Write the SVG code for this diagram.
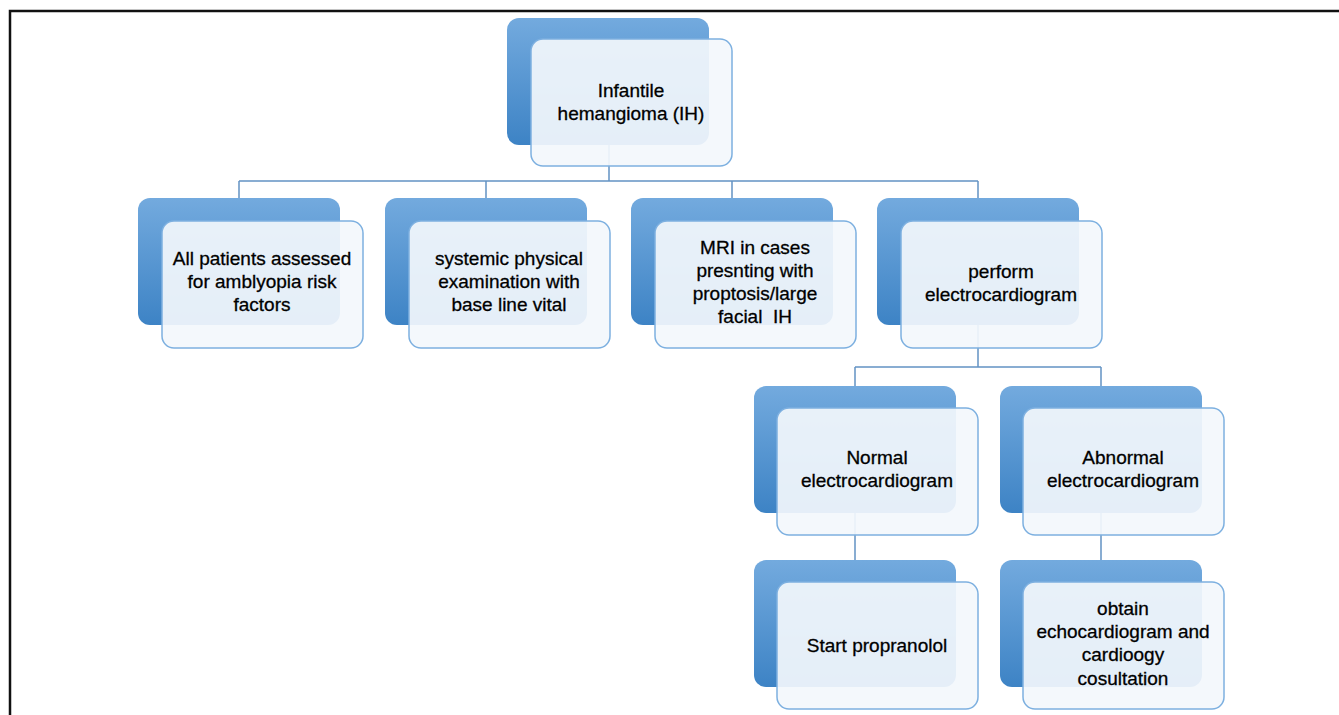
<svg xmlns="http://www.w3.org/2000/svg" width="1339" height="715" viewBox="0 0 1339 715">
<defs>
<linearGradient id="bg" x1="0" y1="0" x2="0" y2="1">
<stop offset="0" stop-color="#73AADE"/>
<stop offset="1" stop-color="#3D83C5"/>
</linearGradient>
<style>
.back{fill:url(#bg);}
.front{fill:#F3F7FC;fill-opacity:0.92;stroke:#7DB0E0;stroke-width:1.5;}
.con{fill:none;stroke:#6393C4;stroke-width:1.5;}
text{font-family:"Liberation Sans",Arial,sans-serif;font-size:19px;fill:#000;stroke:#000;stroke-width:0.3;text-anchor:middle;}
</style>
</defs>
<rect x="0" y="0" width="1339" height="715" fill="#fff"/>
<rect x="10" y="11" width="1340" height="720" fill="none" stroke="#111" stroke-width="2.5"/>
<g id="connectors">
<path class="con" d="M609 145V181M239 181H978M239 181V198M486 181V198M732 181V198M978 181V198"/>
<path class="con" d="M978 325V367M855 367H1101M855 367V386M1101 367V386"/>
<path class="con" d="M855 513V560M1101 513V560"/>
</g>
<g id="n0">
<rect class="back" x="507" y="18" width="202" height="127" rx="12"/>
<rect class="front" x="531" y="39" width="201" height="127" rx="12"/>
<text x="631" y="97">Infantile</text>
<text x="631" y="120">hemangioma (IH)</text>
</g>
<g id="n1">
<rect class="back" x="138" y="198" width="202" height="127" rx="12"/>
<rect class="front" x="162" y="221" width="201" height="127" rx="12"/>
<text x="262" y="265">All patients assessed</text>
<text x="262" y="288">for amblyopia risk</text>
<text x="262" y="311">factors</text>
</g>
<g id="n2">
<rect class="back" x="385" y="198" width="202" height="127" rx="12"/>
<rect class="front" x="409" y="221" width="201" height="127" rx="12"/>
<text x="509" y="265">systemic physical</text>
<text x="509" y="288">examination with</text>
<text x="509" y="311">base line vital</text>
</g>
<g id="n3">
<rect class="back" x="631" y="198" width="202" height="127" rx="12"/>
<rect class="front" x="655" y="221" width="201" height="127" rx="12"/>
<text x="755" y="254">MRI in cases</text>
<text x="755" y="277">presnting with</text>
<text x="755" y="300">proptosis/large</text>
<text x="755" y="323" xml:space="preserve">facial  IH</text>
</g>
<g id="n4">
<rect class="back" x="877" y="198" width="202" height="127" rx="12"/>
<rect class="front" x="901" y="221" width="201" height="127" rx="12"/>
<text x="1001" y="278">perform</text>
<text x="1001" y="301">electrocardiogram</text>
</g>
<g id="n5">
<rect class="back" x="754" y="386" width="202" height="127" rx="12"/>
<rect class="front" x="777" y="408" width="201" height="127" rx="12"/>
<text x="877" y="464">Normal</text>
<text x="877" y="487">electrocardiogram</text>
</g>
<g id="n6">
<rect class="back" x="1000" y="386" width="202" height="127" rx="12"/>
<rect class="front" x="1023" y="408" width="201" height="127" rx="12"/>
<text x="1123" y="464">Abnormal</text>
<text x="1123" y="487">electrocardiogram</text>
</g>
<g id="n7">
<rect class="back" x="754" y="560" width="202" height="127" rx="12"/>
<rect class="front" x="777" y="582" width="201" height="127" rx="12"/>
<text x="877" y="652">Start propranolol</text>
</g>
<g id="n8">
<rect class="back" x="1000" y="560" width="202" height="127" rx="12"/>
<rect class="front" x="1023" y="582" width="201" height="127" rx="12"/>
<text x="1123" y="615">obtain</text>
<text x="1123" y="638">echocardiogram and</text>
<text x="1123" y="661">cardioogy</text>
<text x="1123" y="685">cosultation</text>
</g>
</svg>
